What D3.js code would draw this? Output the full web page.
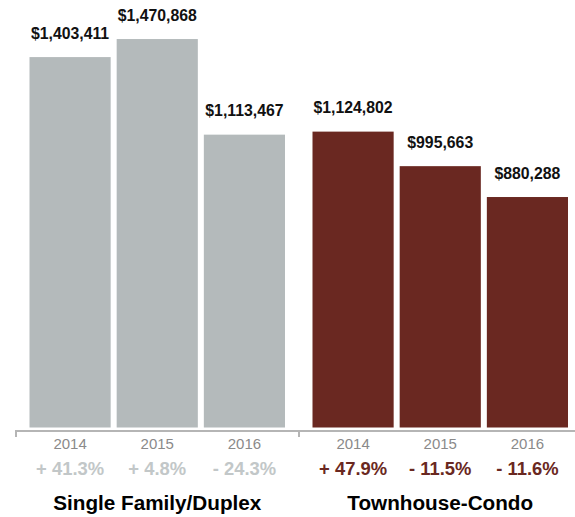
<!DOCTYPE html>
<html>
<head>
<meta charset="utf-8">
<script src="https://cdn.jsdelivr.net/npm/d3@7"></script>
<style>
  html, body { margin: 0; padding: 0; background: #fff; }
  svg { display: block; font-family: "Liberation Sans", Arial, Helvetica, sans-serif; }
</style>
</head>
<body>
<svg id="chart" width="575" height="517"></svg>
<script>
const groups = ["Single Family/Duplex", "Townhouse-Condo"];
const years = ["2014", "2015", "2016"];
const singleFamilyValues = [1403411, 1470868, 1113467];
const townhouseValues = [1124802, 995663, 880288];
const singleFamilyChange = ["+ 41.3%", "+ 4.8%", "- 24.3%"];
const townhouseChange = ["+ 47.9%", "- 11.5%", "- 11.6%"];

const seriesValues = [singleFamilyValues, townhouseValues];
const seriesChange = [singleFamilyChange, townhouseChange];
const barColors = ["#b4babb", "#6a2821"];
const pctColors = ["#c2c7c8", "#6a2821"];

const svg = d3.select("#chart");
const baseY = 432.5;

const x0 = d3.scaleBand().domain(groups).range([15, 581]).padding(0);
const x1 = d3.scaleBand().domain(years).range([14.5, 270]).paddingInner(0.069).paddingOuter(0);
const y = d3.scaleLinear().domain([0, 1600000]).range([baseY, 4.5]);

const fmt = d3.format("$,");

groups.forEach((g, gi) => {
  const gx = x0(g);
  const grp = svg.append("g").attr("transform", `translate(${gx},0)`);
  const data = years.map((yr, i) => ({ yr, v: seriesValues[gi][i], pct: seriesChange[gi][i] }));

  grp.selectAll("rect").data(data).join("rect")
    .attr("x", d => x1(d.yr))
    .attr("y", d => y(d.v))
    .attr("width", x1.bandwidth())
    .attr("height", d => y(0) - 5 - y(d.v))
    .attr("fill", barColors[gi]);

  grp.selectAll("text.val").data(data).join("text")
    .attr("class", "val")
    .attr("x", d => x1(d.yr) + x1.bandwidth() / 2)
    .attr("y", d => y(d.v) - 18.5)
    .attr("text-anchor", "middle")
    .attr("font-size", "15.8px")
    .attr("font-weight", "bold")
    .attr("fill", "#111")
    .text(d => fmt(d.v));

  grp.selectAll("text.yr").data(data).join("text")
    .attr("class", "yr")
    .attr("x", d => x1(d.yr) + x1.bandwidth() / 2)
    .attr("y", 449)
    .attr("text-anchor", "middle")
    .attr("font-size", "15px")
    .attr("fill", "#8a8a8a")
    .text(d => d.yr);

  grp.selectAll("text.pct").data(data).join("text")
    .attr("class", "pct")
    .attr("x", d => x1(d.yr) + x1.bandwidth() / 2)
    .attr("y", 475)
    .attr("text-anchor", "middle")
    .attr("font-size", "18.4px")
    .attr("font-weight", "bold")
    .attr("fill", pctColors[gi])
    .text(d => d.pct);

  grp.append("text")
    .attr("x", x1.range()[0] + (x1.range()[1] - x1.range()[0]) / 2)
    .attr("y", 510)
    .attr("text-anchor", "middle")
    .attr("font-size", "20.7px")
    .attr("font-weight", "bold")
    .attr("fill", "#000")
    .text(g);

  // group tick
  grp.append("line")
    .attr("x1", 1).attr("x2", 1)
    .attr("y1", baseY - 2).attr("y2", 437)
    .attr("stroke", "#b5b5b5").attr("stroke-width", 2);
});

// axis baseline
svg.append("line")
  .attr("x1", 15).attr("x2", 575)
  .attr("y1", baseY - 1.5).attr("y2", baseY - 1.5)
  .attr("stroke", "#b5b5b5").attr("stroke-width", 2);
</script>
</body>
</html>
